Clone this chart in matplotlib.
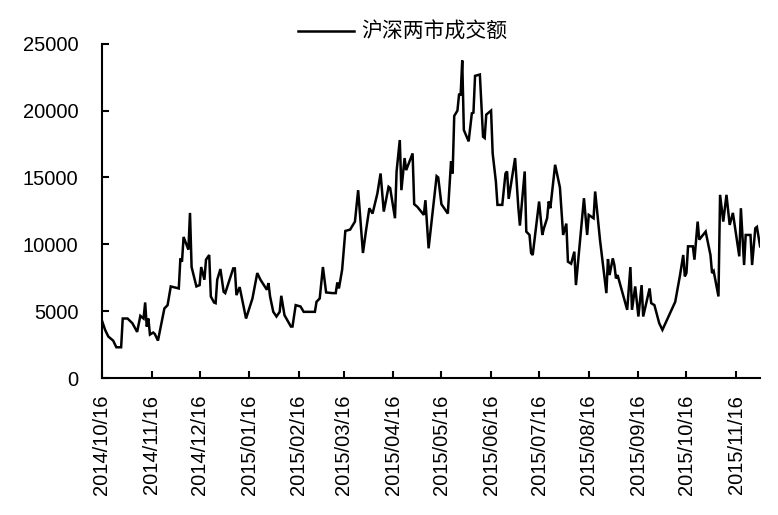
import numpy as np
import pandas as pd
import matplotlib
matplotlib.use('Agg')
import matplotlib.pyplot as plt
import matplotlib.dates as mdates

# Latin text in an Arial-like face, Chinese falls back to Noto CJK
plt.rcParams['font.family'] = ['Liberation Sans', 'Noto Sans CJK SC']

series_name = '沪深两市成交额'

# Daily turnover
dates = [
    '2014-10-16', '2014-10-18', '2014-10-20', '2014-10-23', '2014-10-25',
    '2014-10-28', '2014-10-29', '2014-11-01', '2014-11-04', '2014-11-07',
    '2014-11-09', '2014-11-11', '2014-11-12', '2014-11-13', '2014-11-14',
    '2014-11-15', '2014-11-17', '2014-11-18', '2014-11-20', '2014-11-24',
    '2014-11-26', '2014-11-28', '2014-12-03', '2014-12-04', '2014-12-05',
    '2014-12-06', '2014-12-09', '2014-12-10', '2014-12-11', '2014-12-14',
    '2014-12-16', '2014-12-17', '2014-12-19', '2014-12-20', '2014-12-22',
    '2014-12-23', '2014-12-25', '2014-12-26', '2014-12-27', '2014-12-29',
    '2014-12-31', '2015-01-01', '2015-01-06', '2015-01-07', '2015-01-08',
    '2015-01-10', '2015-01-14', '2015-01-18', '2015-01-21', '2015-01-23',
    '2015-01-27', '2015-01-28', '2015-01-29', '2015-01-31', '2015-02-02',
    '2015-02-04', '2015-02-05', '2015-02-07', '2015-02-11', '2015-02-12',
    '2015-02-14', '2015-02-17', '2015-02-19', '2015-02-26', '2015-02-27',
    '2015-03-01', '2015-03-03', '2015-03-05', '2015-03-09', '2015-03-11',
    '2015-03-12', '2015-03-13', '2015-03-15', '2015-03-17', '2015-03-20',
    '2015-03-23', '2015-03-25', '2015-03-28', '2015-03-30', '2015-04-01',
    '2015-04-03', '2015-04-06', '2015-04-08', '2015-04-10', '2015-04-13',
    '2015-04-14', '2015-04-17', '2015-04-18', '2015-04-20', '2015-04-21',
    '2015-04-23', '2015-04-24', '2015-04-28', '2015-04-29', '2015-05-01',
    '2015-05-05', '2015-05-06', '2015-05-08', '2015-05-13', '2015-05-14',
    '2015-05-16', '2015-05-20', '2015-05-22', '2015-05-23', '2015-05-24',
    '2015-05-26', '2015-05-27', '2015-05-28', '2015-05-29', '2015-05-30',
    '2015-06-02', '2015-06-04', '2015-06-05', '2015-06-06', '2015-06-09',
    '2015-06-11', '2015-06-12', '2015-06-13', '2015-06-16', '2015-06-17',
    '2015-06-19', '2015-06-20', '2015-06-23', '2015-06-25', '2015-06-26',
    '2015-06-27', '2015-07-01', '2015-07-03', '2015-07-04', '2015-07-07',
    '2015-07-08', '2015-07-10', '2015-07-11', '2015-07-12', '2015-07-16',
    '2015-07-18', '2015-07-19', '2015-07-21', '2015-07-22', '2015-07-23',
    '2015-07-26', '2015-07-29', '2015-07-31', '2015-08-02', '2015-08-03',
    '2015-08-05', '2015-08-07', '2015-08-08', '2015-08-13', '2015-08-15',
    '2015-08-16', '2015-08-19', '2015-08-20', '2015-08-23', '2015-08-27',
    '2015-08-28', '2015-08-29', '2015-08-31', '2015-09-01', '2015-09-02',
    '2015-09-03', '2015-09-09', '2015-09-11', '2015-09-12', '2015-09-14',
    '2015-09-16', '2015-09-18', '2015-09-19', '2015-09-23', '2015-09-24',
    '2015-09-26', '2015-09-29', '2015-10-01', '2015-10-09', '2015-10-12',
    '2015-10-14', '2015-10-15', '2015-10-16', '2015-10-17', '2015-10-20',
    '2015-10-21', '2015-10-23', '2015-10-24', '2015-10-28', '2015-10-31',
    '2015-11-01', '2015-11-02', '2015-11-05', '2015-11-06', '2015-11-08',
    '2015-11-10', '2015-11-12', '2015-11-14', '2015-11-16', '2015-11-18',
    '2015-11-19', '2015-11-21', '2015-11-22', '2015-11-25', '2015-11-26',
    '2015-11-28', '2015-11-29', '2015-12-01',
]

turnover = [
    4300, 3600, 3100, 2800, 2300,
    2300, 4450, 4450, 4100, 3450,
    4650, 4450, 5650, 3850, 4450,
    3250, 3400, 3300, 2800, 5200,
    5450, 6850, 6700, 8950, 8700,
    10550, 9600, 12350, 8300, 6850,
    6950, 8300, 7350, 8850, 9200,
    6100, 5650, 5600, 7350, 8150,
    6450, 6350, 8200, 8200, 6200,
    6800, 4450, 5950, 7850, 7350,
    6600, 7100, 6100, 4950, 4600,
    4950, 6150, 4700, 3850, 3850,
    5450, 5350, 4950, 4950, 5700,
    5950, 8300, 6400, 6350, 6350,
    7150, 6700, 8100, 11000, 11100,
    11700, 14050, 9350, 11100, 12700,
    12300, 13800, 15300, 12450, 14300,
    14200, 11950, 15450, 17800, 14050,
    16450, 15550, 16800, 13000, 12800,
    12200, 13300, 9700, 15100, 15000,
    13000, 12300, 16200, 15300, 19600,
    20000, 21200, 21200, 23750, 18550,
    17700, 19800, 19850, 22600, 22700,
    18050, 17950, 19700, 20000, 16800,
    14700, 12950, 12950, 15300, 15450,
    13400, 16450, 12800, 11400, 15450,
    10950, 10700, 9350, 9200, 13200,
    10700, 11200, 11950, 13200, 12700,
    15950, 14250, 10700, 11550, 8700,
    8550, 9450, 6950, 13450, 10700,
    12200, 11950, 13950, 10350, 6350,
    8900, 7700, 8950, 8450, 7450,
    7700, 5100, 8300, 5100, 6850,
    4600, 6950, 4600, 6700, 5600,
    5450, 4100, 3600, 5700, 7700,
    9200, 7600, 7850, 9850, 9850,
    8850, 11700, 10350, 10950, 9200,
    7850, 8000, 6100, 13700, 11700,
    13700, 11450, 12350, 10700, 9100,
    12700, 8450, 10700, 10700, 8450,
    11200, 11300, 9850,
]

y_ticks = [0, 5000, 10000, 15000, 20000, 25000]


def plot_turnover(dates, values):
    ''' Plot the daily turnover line on a monthly date axis '''
    fig = plt.figure(figsize=(7.78, 5.15), dpi=100)
    ax = fig.add_axes([0.131, 0.266, 0.846, 0.649])

    x = pd.to_datetime(dates)
    line, = ax.plot(x, values, color='black', linewidth=1.8,
                    solid_joinstyle='miter', label=series_name)

    # Monthly ticks on the 16th, like the source chart
    month_ticks = pd.date_range('2014-10-16', '2015-11-16',
                                freq=pd.DateOffset(months=1))
    ax.set_xticks(month_ticks)
    ax.xaxis.set_major_formatter(mdates.DateFormatter('%Y/%m/%d'))
    ax.set_xlim(pd.Timestamp('2014-10-16'), pd.Timestamp('2015-12-01'))
    ax.set_ylim(0, 25000)
    ax.set_yticks(y_ticks)

    for side in ['top', 'right']:
        ax.spines[side].set_visible(False)
    for side in ['left', 'bottom']:
        ax.spines[side].set_linewidth(1.5)
        ax.spines[side].set_color('black')

    ax.tick_params(axis='both', direction='in', length=5, width=1.5,
                   labelsize=14.5, colors='black')
    ax.tick_params(axis='y', pad=17)
    ax.tick_params(axis='x', pad=12, labelrotation=90)

    fig.legend(handles=[line], loc='center left',
               bbox_to_anchor=(298 / 778, 1 - 32 / 515),
               frameon=False, fontsize=15, handlelength=2.7,
               handletextpad=0.35, borderpad=0, borderaxespad=0)
    return fig


if __name__ == '__main__':
    fig = plot_turnover(dates, turnover)
    fig.savefig('out.png', dpi=100)
    plt.close(fig)
